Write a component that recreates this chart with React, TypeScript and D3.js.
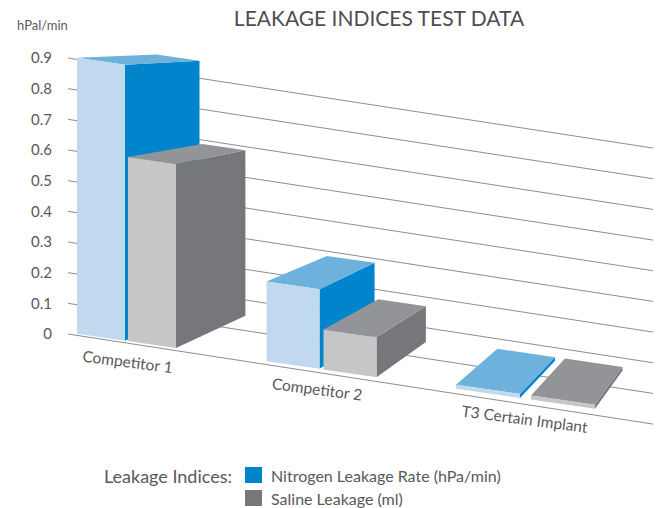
import React from "react";
import * as d3 from "d3";

// chart data
const categories = ["Competitor 1", "Competitor 2", "T3 Certain Implant"];
const nitrogenValues = [0.9, 0.26, 0.013];
const salineValues = [0.6, 0.13, 0.013];
const yTicks = [0, 0.1, 0.2, 0.3, 0.4, 0.5, 0.6, 0.7, 0.8, 0.9];
const seriesNames = ["Nitrogen Leakage Rate (hPa/min)", "Saline Leakage (ml)"];

const W = 657;
const H = 508;
const TEXT = "#58595b";
const FONT = "Lato, 'Open Sans', sans-serif";

// face colours: front, side, top
const palettes = [
  { front: "#c1d9ee", side: "#0084cb", top: "#6cb2dc", key: "#0084cb" },
  { front: "#c6c6c7", side: "#76777a", top: "#939497", key: "#76777a" },
];

// floor & perspective
const FLOOR_X = 79;
const FLOOR_Y = 334;
const FLOOR_SLOPE = 0.145;
const GRID_SLOPE = 0.154;
const VP: [number, number] = [870, 26];
const DEPTH = 0.1;

const floorY = (x: number) => FLOOR_Y + FLOOR_SLOPE * (x - FLOOR_X);
const back = (p: [number, number]): [number, number] => [
  p[0] + (VP[0] - p[0]) * DEPTH,
  p[1] + (VP[1] - p[1]) * DEPTH,
];
const pts = (a: [number, number][]) => a.map((p) => p.join(",")).join(" ");

export default function App() {
  const xScale = d3
    .scaleBand()
    .domain(categories)
    .range([77, 77 + 189.5 * categories.length]);

  // bars get wider towards the right (perspective)
  const widthScale = d3.scaleLinear().domain([0, 1, 2]).range([48, 53, 64]);
  const gapScale = d3.scaleLinear().domain([0, 1, 2]).range([3, 4, 11]);

  const hScale = d3.scaleLinear().domain([0, 0.9]).range([0, 276]);
  const gridY = d3.scaleLinear().domain([0, 0.9]).range([334, 58]);

  const gridX0 = 68;
  const gridX1 = 653;

  const box = (x0: number, w: number, v: number, pal: typeof palettes[0], key: string) => {
    const h = hScale(v);
    const flb: [number, number] = [x0, floorY(x0)];
    const frb: [number, number] = [x0 + w, floorY(x0 + w)];
    const flt: [number, number] = [x0, flb[1] - h];
    const frt: [number, number] = [x0 + w, frb[1] - h];
    return (
      <g key={key}>
        <polygon points={pts([frb, back(frb), back(frt), frt])} fill={pal.side} />
        <polygon points={pts([flt, frt, back(frt), back(flt)])} fill={pal.top} />
        <polygon points={pts([flb, frb, frt, flt])} fill={pal.front} />
      </g>
    );
  };

  return (
    <svg
      width={W}
      height={H}
      style={{ position: "absolute", left: 0, top: 0, background: "#fff" }}
      fontFamily={FONT}
    >
      <text x={379} y={26} textAnchor="middle" fontSize={21} fill="#4d4d4f">
        LEAKAGE INDICES TEST DATA
      </text>
      <text x={17} y={30} fontSize={13} fill={TEXT}>
        hPal/min
      </text>

      {/* gridlines */}
      <g stroke="#6d6e71" strokeWidth={0.8}>
        {yTicks.map((t) => (
          <line
            key={t}
            x1={gridX0}
            y1={gridY(t)}
            x2={gridX1}
            y2={gridY(t) + GRID_SLOPE * (gridX1 - gridX0)}
          />
        ))}
      </g>
      <g fontSize={15} fill={TEXT} textAnchor="end">
        {yTicks.map((t) => (
          <text key={t} x={52} y={gridY(t)} dy="0.35em">
            {t === 0 ? "0" : d3.format(".1f")(t)}
          </text>
        ))}
      </g>

      {/* bars */}
      {categories.map((c, i) => {
        const x0 = xScale(c) as number;
        const w = widthScale(i);
        const g = gapScale(i);
        return (
          <g key={c}>
            {box(x0, w, nitrogenValues[i], palettes[0], "n")}
            {box(x0 + w + g, w, salineValues[i], palettes[1], "s")}
          </g>
        );
      })}

      {/* category labels */}
      <g fontSize={15.5} fill={TEXT}>
        {categories.map((c) => {
          const x = (xScale(c) as number) + 5;
          const y = floorY(x) + 27;
          return (
            <text key={c} x={x} y={y} transform={`rotate(7.5 ${x} ${y})`}>
              {c}
            </text>
          );
        })}
      </g>

      {/* legend */}
      <text x={232} y={483} textAnchor="end" fontSize={18} fill={TEXT}>
        Leakage Indices:
      </text>
      {seriesNames.map((s, i) => (
        <g key={s} transform={`translate(245, ${467 + i * 23})`}>
          <rect width={17} height={16} fill={palettes[i].key} />
          <text x={26} y={15} fontSize={16} fill={TEXT}>
            {s}
          </text>
        </g>
      ))}
    </svg>
  );
}
